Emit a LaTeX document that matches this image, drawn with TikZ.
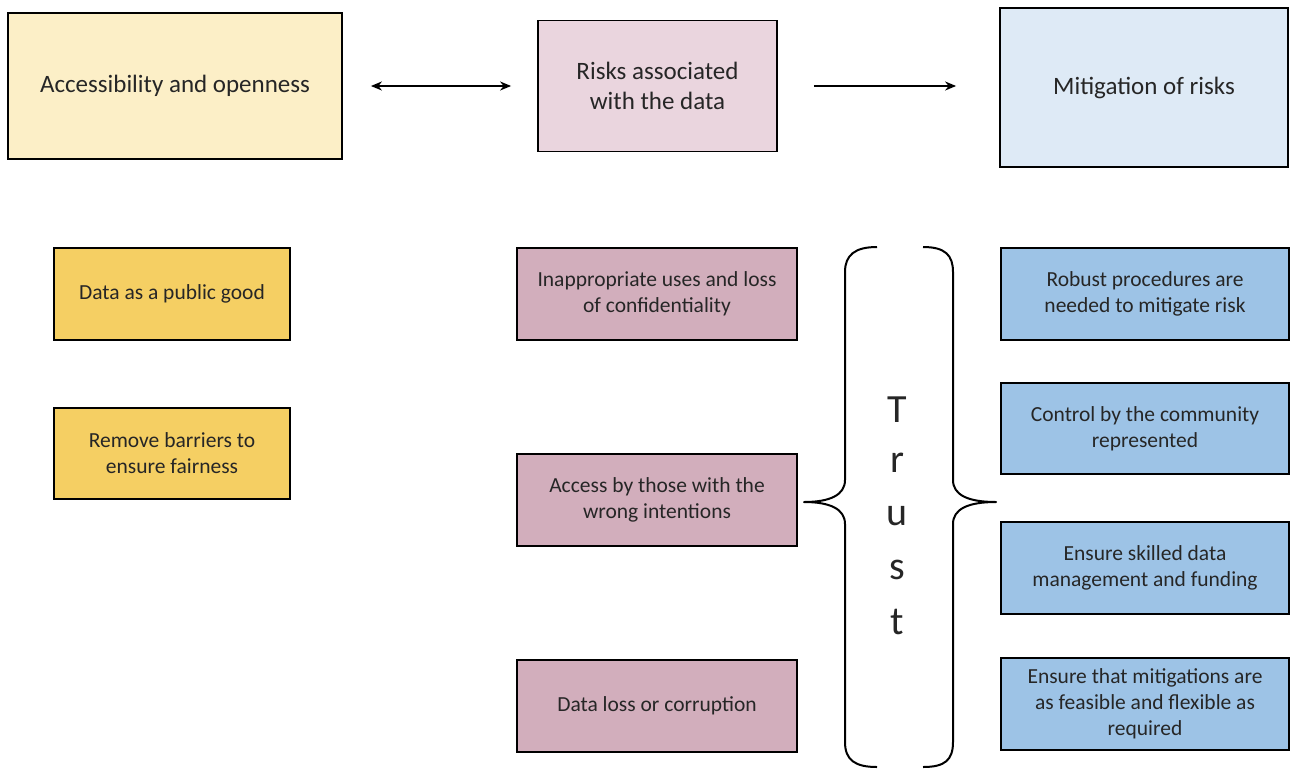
\documentclass[tikz,border=0pt]{standalone}
\usepackage{fontspec}
\setmainfont{Carlito}
\usetikzlibrary{arrows.meta}
\definecolor{ylight}{HTML}{FCEFC7}
\definecolor{plight}{HTML}{EAD5DE}
\definecolor{blight}{HTML}{DEEAF6}
\definecolor{ydark}{HTML}{F5CF63}
\definecolor{pdark}{HTML}{D2AEBC}
\definecolor{bdark}{HTML}{9DC3E6}
\begin{document}
\begin{tikzpicture}[x=1pt,y=-1pt,
  box/.style={draw=black,line width=1.8pt,align=center,inner sep=0pt,text=black!85},
  head/.style={box,font=\fontsize{25}{30}\selectfont},
  item/.style={box,font=\fontsize{21.5}{26}\selectfont},
  tip/.style={Stealth[length=11pt,width=9pt]},
  conn/.style={line width=1.8pt,-{Stealth[length=11pt,width=9pt]}},
  letter/.style={font=\fontsize{40}{42}\selectfont,text=black!85},
  brace/.style={line width=2pt,line join=round}]
\useasboundingbox (0,0) rectangle (1290,769);
% header boxes
\node[head,fill=ylight,minimum width=334pt,minimum height=146pt] (A) at (175,86) {Accessibility and openness};
\node[head,fill=plight,minimum width=239pt,minimum height=131pt] (R) at (657.5,86) {Risks associated\\with the data};
\node[head,fill=blight,minimum width=288pt,minimum height=159pt] (M) at (1144,87.5) {Mitigation of risks};
% arrows
\draw[line width=1.8pt,{Stealth[length=11pt,width=9pt]}-{Stealth[length=11pt,width=9pt]}] ([xshift=28pt]A.east) -- ([xshift=-26pt]R.west);
\draw[conn] ([xshift=36pt]R.east) -- ([xshift=-43pt]M.west |- R.east);
% yellow items
\node[item,fill=ydark,minimum width=236pt,minimum height=92pt] (Y1) at (172,294) {Data as a public good};
\node[item,fill=ydark,minimum width=236pt,minimum height=91pt] (Y2) at (172,453.5) {Remove barriers to\\ensure fairness};
% pink items
\node[item,fill=pdark,minimum width=280pt,minimum height=92pt] (P1) at (657,294) {Inappropriate uses and loss\\of confidentiality};
\node[item,fill=pdark,minimum width=280pt,minimum height=92pt] (P2) at (657,500) {Access by those with the\\wrong intentions};
\node[item,fill=pdark,minimum width=280pt,minimum height=92pt] (P3) at (657,706) {Data loss or corruption};
% blue items
\node[item,fill=bdark,minimum width=288pt,minimum height=92pt] (B1) at (1145,294) {Robust procedures are\\needed to mitigate risk};
\node[item,fill=bdark,minimum width=288pt,minimum height=91pt] (B2) at (1145,428.5) {Control by the community\\represented};
\node[item,fill=bdark,minimum width=288pt,minimum height=92pt] (B3) at (1145,568) {Ensure skilled data\\management and funding};
\node[item,fill=bdark,minimum width=288pt,minimum height=92pt] (B4) at (1145,704) {Ensure that mitigations are\\as feasible and flexible as\\required};
% braces
\draw[brace] (877,247) .. controls (855,247) and (845,255) .. (845,272)
  -- (845,480) .. controls (845,495) and (830,502) .. (804,502)
  .. controls (830,502) and (845,509) .. (845,524)
  -- (845,742) .. controls (845,760) and (855,767) .. (877,767);
\draw[brace] (923,247) .. controls (945,247) and (953,255) .. (953,272)
  -- (953,480) .. controls (953,495) and (968,502) .. (996,502)
  .. controls (968,502) and (953,509) .. (953,524)
  -- (953,742) .. controls (953,760) and (945,767) .. (923,767);
% Trust
\node[letter] (T1) at (897,410) {T};
\node[letter] (T2) at (897,463) {r};
\node[letter] (T3) at (897,516) {u};
\node[letter] (T4) at (897,570) {s};
\node[letter] (T5) at (897,622) {t};
\end{tikzpicture}
\end{document}
